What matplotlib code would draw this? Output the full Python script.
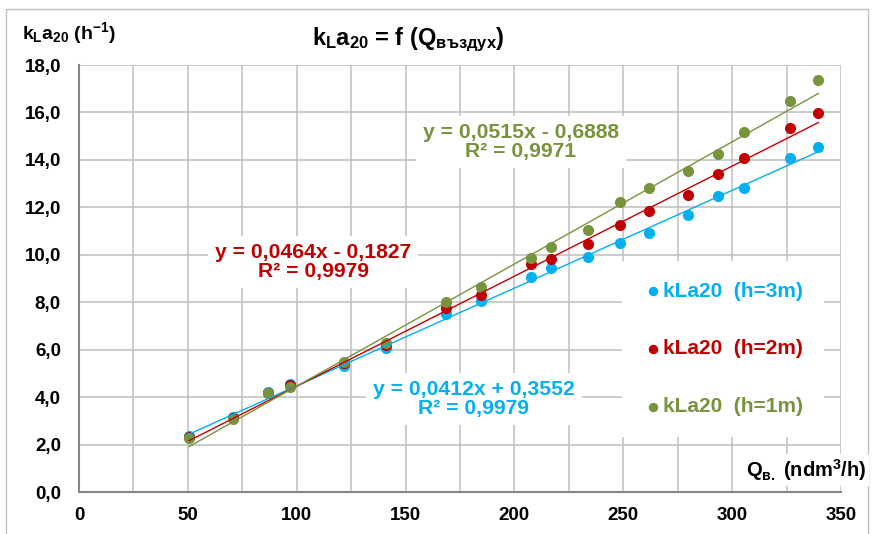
import matplotlib
matplotlib.use('Agg')
import matplotlib.pyplot as plt
import numpy as np
from matplotlib.patches import Rectangle

plt.rcParams.update({
    'font.family': 'sans-serif',
    'font.sans-serif': ['Liberation Sans', 'DejaVu Sans'],
    'font.weight': 'bold',
    'mathtext.fontset': 'custom',
    'mathtext.rm': 'Liberation Sans:bold',
    'mathtext.it': 'Liberation Sans:bold',
    'mathtext.bf': 'Liberation Sans:bold',
})

# расход на въздух, ndm3/h
q_air = [50.6, 70.8, 86.8, 96.8, 121.6, 140.8, 168.7, 184.7, 207.6, 216.8,
         233.6, 248.5, 261.9, 279.5, 293.6, 305.5, 326.5, 339.6]
kla_h3 = [2.34, 3.18, 4.22, 4.55, 5.31, 6.06, 7.49, 8.05, 9.08, 9.46,
          9.92, 10.51, 10.93, 11.68, 12.48, 12.80, 14.07, 14.56]
kla_h2 = [2.30, 3.12, 4.19, 4.51, 5.45, 6.20, 7.74, 8.31, 9.61, 9.81,
          10.44, 11.26, 11.86, 12.52, 13.39, 14.07, 15.33, 15.96]
kla_h1 = [2.27, 3.07, 4.16, 4.44, 5.49, 6.27, 8.02, 8.63, 9.88, 10.32,
          11.05, 12.21, 12.80, 13.55, 14.24, 15.16, 16.50, 17.37]

series_names = ['kLa20  (h=3m)', 'kLa20  (h=2m)', 'kLa20  (h=1m)']
slopes = [0.0412, 0.0464, 0.0515]
intercepts = [0.3552, -0.1827, -0.6888]
eq_labels = ['y = 0,0412x + 0,3552\nR² = 0,9979',
             'y = 0,0464x - 0,1827\nR² = 0,9979',
             'y = 0,0515x - 0,6888\nR² = 0,9971']

x_ticks = [0, 50, 100, 150, 200, 250, 300, 350]
x_tick_labels = ['0', '50', '100', '150', '200', '250', '300', '350']
y_ticks = [0, 2, 4, 6, 8, 10, 12, 14, 16, 18]
y_tick_labels = ['0,0', '2,0', '4,0', '6,0', '8,0', '10,0', '12,0', '14,0', '16,0', '18,0']

colors = ['#00B0F0', '#C00000', '#77933C']

W, H = 875, 534
fig = plt.figure(figsize=(W / 100, H / 100), dpi=100)
ax = fig.add_axes([79 / W, 1 - 492 / H, (841 - 79) / W, (492 - 65) / H])

q = np.array(q_air)
for vals, col, name, k, b in zip([kla_h3, kla_h2, kla_h1], colors, series_names, slopes, intercepts):
    ax.scatter(q, vals, s=64, color=col, zorder=3, label=name, linewidths=0)
    xx = np.array([q.min(), q.max()])
    ax.plot(xx, k * xx + b, color=col, lw=1.0, zorder=4)

ax.set_xlim(0, 350)
ax.set_ylim(0, 18)
ax.set_xticks(x_ticks)
ax.set_xticklabels(x_tick_labels)
ax.set_xticks(np.arange(25, 350, 50), minor=True)
ax.set_yticks(y_ticks)
ax.set_yticklabels(y_tick_labels)
ax.tick_params(axis='both', which='both', length=0, labelsize=13.5)
ax.tick_params(axis='y', pad=13)
ax.tick_params(axis='x', pad=11)
for lab in ax.get_xticklabels() + ax.get_yticklabels():
    lab.set_fontweight('bold')

ax.grid(True, which='both', color='#BFBFBF', lw=1.1, zorder=0)
ax.set_axisbelow(True)
for s in ['top', 'right']:
    ax.spines[s].set_visible(False)
for s in ['left', 'bottom']:
    ax.spines[s].set_color('#868686')
    ax.spines[s].set_linewidth(1.5)
    ax.spines[s].set_zorder(5)

# уравнения на трендовите линии
eq_pos = [(474, 399), (313, 262), (521, 142)]
for (px, py), txt, col in zip(eq_pos, eq_labels, colors):
    fig.text(px / W, 1 - py / H, txt, color=col, fontsize=15.2, fontweight='bold',
             ha='center', va='center', linespacing=1.0, zorder=6,
             bbox=dict(facecolor='white', edgecolor='none', pad=5))

leg = ax.legend(loc='center', bbox_to_anchor=(723 / W, 1 - 349 / H),
                bbox_transform=fig.transFigure, frameon=True, fancybox=False,
                facecolor='white', edgecolor='none', framealpha=1,
                prop={'weight': 'bold', 'size': 15}, labelspacing=1.85,
                handletextpad=0.0, handlelength=1.0, borderpad=1.0,
                markerscale=0.85, scatterpoints=1)
leg.set_zorder(6)
for t, col in zip(leg.get_texts(), colors):
    t.set_color(col)

# заглавие и надписи на осите
fig.text(408 / W, 1 - 40 / H, r'$k_{L}a_{20}$ = f (Q$_{въздух}$)', fontsize=17,
         fontweight='bold', ha='center', va='center')
fig.text(22 / W, 1 - 33 / H, r'$k_{L}a_{20}$ (h$^{-1}$)', fontsize=14,
         fontweight='bold', ha='left', va='center')
fig.text(866 / W, 1 - 470 / H, r'Q$_{в.}$ (ndm$^{3}$/h)', fontsize=14.5,
         fontweight='bold', ha='right', va='center', zorder=6,
         bbox=dict(facecolor='white', edgecolor='none', pad=2))

fig.patches.append(Rectangle((6 / W, -0.05), (868 - 6) / W, 1.05 - 9 / H,
                             transform=fig.transFigure, fill=False,
                             edgecolor='#BFBFBF', lw=1.0))

fig.savefig('out.png', dpi=100)
